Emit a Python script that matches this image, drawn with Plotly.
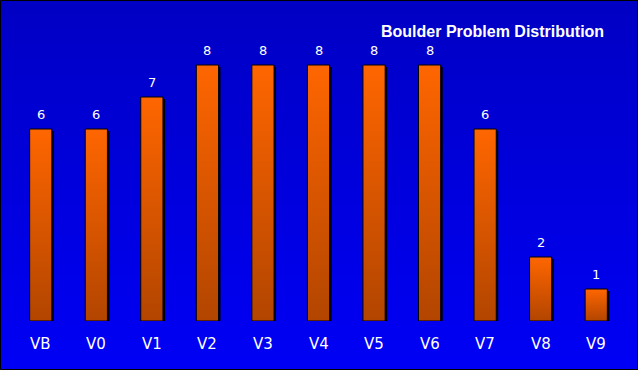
import plotly.graph_objects as go

# ---- data ----
categories = ["VB", "V0", "V1", "V2", "V3", "V4", "V5", "V6", "V7", "V8", "V9"]
counts = [6, 6, 7, 8, 8, 8, 8, 8, 6, 2, 1]
title_text = "Boulder Problem Distribution"

# ---- layout geometry ----
W, H = 638, 370
ML, MR, MT, MB = 13, 14, 33, 49
PW, PH = W - ML - MR, H - MT - MB
X_RANGE = [-0.5, len(categories) - 0.5]
Y_RANGE = [0, 9]
px_per_x = PW / (X_RANGE[1] - X_RANGE[0])
px_per_y = PH / (Y_RANGE[1] - Y_RANGE[0])
HALF = 0.2
SH_DX = 2 / px_per_x
SH_DY = 2 / px_per_y

fig = go.Figure()

# shadows
for i, v in enumerate(counts):
    x0, x1 = i - HALF + SH_DX, i + HALF + SH_DX
    fig.add_trace(go.Scatter(
        x=[x0, x1, x1, x0, x0], y=[0, 0, v - SH_DY, v - SH_DY, 0],
        mode="lines", fill="toself", fillcolor="black",
        line=dict(width=0, color="black"), hoverinfo="skip", showlegend=False))

# bars with vertical gradient
for i, (c, v) in enumerate(zip(categories, counts)):
    x0, x1 = i - HALF, i + HALF
    fig.add_trace(go.Scatter(
        x=[x0, x1, x1, x0, x0], y=[0, 0, v, v, 0],
        mode="lines", fill="toself",
        fillgradient=dict(type="vertical",
                          colorscale=[[0, "#B24500"], [1, "#FF6600"]]),
        line=dict(width=1, color="black"), name=c,
        hovertemplate=f"{c}: {v}<extra></extra>", showlegend=False))

annotations = []
for i, (c, v) in enumerate(zip(categories, counts)):
    annotations.append(dict(x=i, y=v, xref="x", yref="y", text=str(v),
                            showarrow=False, yanchor="middle", yshift=15,
                            font=dict(family="DejaVu Sans", size=13, color="white")))
    annotations.append(dict(x=i, y=0, xref="x", yref="y", text=c,
                            showarrow=False, yanchor="middle", yshift=-23,
                            font=dict(family="DejaVu Sans", size=15, color="white")))

annotations.append(dict(x=(492 - ML) / PW, y=(H - MB - 31) / PH, xref="paper", yref="paper",
                        text=title_text, showarrow=False, xanchor="center", yanchor="middle",
                        font=dict(family="Liberation Sans", size=16, color="white", weight="bold")))

# background gradient strips (full figure)
shapes = []
n = 74
step = H / n
def py(p):
    return (H - MB - p) / PH
def pxp(p):
    return (p - ML) / PW
for k in range(n):
    t = k / (n - 1)
    b = int(round(196 + t * (245 - 196)))
    shapes.append(dict(type="rect", xref="paper", yref="paper",
                       x0=pxp(0), x1=pxp(W), y0=py(min(H, (k + 1) * step + 1)), y1=py(k * step),
                       fillcolor=f"rgb(0,0,{b})", line=dict(width=0), layer="below"))
# outer border
shapes.append(dict(type="rect", xref="paper", yref="paper",
                   x0=pxp(0.5), x1=pxp(W - 0.5), y0=py(H - 0.5), y1=py(0.5),
                   line=dict(color="black", width=1), fillcolor="rgba(0,0,0,0)", layer="above"))

fig.update_layout(
    width=W, height=H,
    margin=dict(l=ML, r=MR, t=MT, b=MB, pad=0),
    paper_bgcolor="#0000E0", plot_bgcolor="rgba(0,0,0,0)",
    xaxis=dict(range=X_RANGE, visible=False, fixedrange=True),
    yaxis=dict(range=Y_RANGE, visible=False, fixedrange=True),
    shapes=shapes, annotations=annotations, showlegend=False,
)

fig.write_html("out.html")
